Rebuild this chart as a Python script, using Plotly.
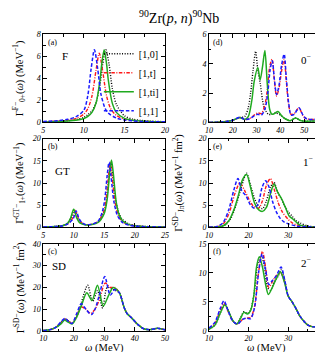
import plotly.graph_objects as go

# ---- panel (a): F, 0+ ----
a_x0 = [5, 7, 8, 9, 10, 10.5, 11, 11.5, 12, 12.3, 12.7, 13.1, 13.5, 14, 15, 16, 17, 18, 20]
a_y0 = [0.05, 0.1, 0.15, 0.25, 0.45, 0.7, 1.05, 1.8, 3.5, 5.2, 6.6, 5.3, 3.1, 1.65, 0.6, 0.3, 0.18, 0.12, 0.06]
a_xt = [5, 7, 8, 9, 10, 10.5, 11, 11.5, 11.9, 12.3, 12.8, 13.3, 14, 15, 16, 17, 18, 20]
a_yt = [0.06, 0.13, 0.2, 0.35, 0.75, 1.26, 2.4, 4.75, 6.3, 4.75, 2.4, 1.26, 0.63, 0.31, 0.18, 0.12, 0.08, 0.05]
a_xti = [5, 7, 8, 9, 10, 10.5, 11, 11.5, 12, 12.2, 12.5, 12.8, 13, 13.5, 14, 15, 16, 17, 18, 20]
a_yti = [0.04, 0.08, 0.12, 0.19, 0.36, 0.55, 0.91, 1.75, 3.9, 5.3, 6.6, 5.3, 3.9, 1.75, 0.91, 0.36, 0.19, 0.12, 0.08, 0.04]
a_x1 = [5, 7, 8, 9, 10, 10.5, 10.9, 11.3, 11.7, 12.1, 12.6, 13, 14, 15, 16, 17, 18, 20]
a_y1 = [0.08, 0.17, 0.28, 0.5, 1.1, 2.5, 4.9, 6.6, 4.9, 2.6, 1.3, 0.85, 0.4, 0.22, 0.14, 0.09, 0.07, 0.05]

# ---- panel (b): GT, 1+ ----
b_x0 = [5, 7, 8, 9, 9.6, 10.1, 10.6, 11, 12, 13, 14, 15, 15.4, 15.8, 16.1, 16.4, 16.9, 17.5, 18, 19, 20, 22, 25]
b_y0 = [0.1, 0.2, 0.36, 1.0, 2.2, 4.0, 2.2, 1.3, 0.6, 0.7, 1.3, 3.6, 6.2, 11.5, 14.8, 11.5, 6.0, 2.9, 1.8, 0.8, 0.45, 0.18, 0.09]
b_xt = [5, 7, 8, 9, 9.8, 10.3, 10.8, 11.3, 12, 13, 14, 14.9, 15.3, 15.7, 16.0, 16.3, 16.8, 17.4, 18, 19, 20, 22, 25]
b_yt = [0.1, 0.18, 0.3, 0.8, 2.0, 3.8, 2.0, 1.0, 0.6, 0.7, 1.3, 3.5, 6.2, 11.5, 14.5, 11.5, 5.6, 2.5, 1.3, 0.6, 0.35, 0.15, 0.08]
b_xti = [5, 7, 8, 9, 9.5, 10, 10.5, 11, 12, 13, 14, 15, 15.5, 15.9, 16.2, 16.5, 17, 17.5, 18, 19, 20, 22, 25]
b_yti = [0.08, 0.17, 0.32, 0.9, 2.1, 4.1, 2.1, 1.0, 0.55, 0.63, 1.1, 3.1, 6.4, 12.2, 15.2, 12.2, 5.5, 2.7, 1.5, 0.67, 0.37, 0.16, 0.08]
b_x1 = [5, 7, 8, 9, 9.9, 10.4, 10.9, 11.4, 12, 13, 14, 14.7, 15.1, 15.5, 15.8, 16.1, 16.6, 17.2, 18, 19, 20, 22, 25]
b_y1 = [0.1, 0.18, 0.3, 0.75, 1.9, 3.7, 1.9, 1.0, 0.6, 0.7, 1.4, 3.5, 6.3, 11.8, 14.7, 11.8, 5.8, 2.6, 1.1, 0.5, 0.3, 0.14, 0.07]

# ---- panel (c): SD total ----
c_x0 = [10, 12, 14, 16, 17.2, 18.5, 19.5, 21, 22.5, 24.6, 26.2, 27.8, 29.5, 31, 33, 35, 36.5, 37.5, 39, 41, 43, 45, 47.5, 50]
c_y0 = [0.2, 0.5, 1.5, 4.0, 5.5, 4.3, 3.5, 6.5, 13.0, 21.0, 13.5, 18.5, 10.5, 20.0, 19.0, 17.5, 11, 8.0, 6.0, 3.0, 1.0, 0.6, 1.2, 0.5]
c_xt = [10, 12, 14, 16, 17.2, 18.5, 19.5, 21, 22.5, 24, 25.5, 27, 28.5, 30.3, 32, 33.5, 35, 36.5, 37.5, 39, 41, 43, 45, 47.5, 50]
c_yt = [0.2, 0.5, 1.5, 4.0, 5.5, 4.3, 3.5, 7.0, 11.0, 10.0, 8.0, 10.0, 14.5, 22.0, 20.0, 20.0, 17.5, 11, 8.0, 6.0, 3.0, 1.0, 0.6, 1.2, 0.5]
c_xti = [10, 12, 14, 16, 17, 18, 19.5, 21, 22.5, 24.3, 26, 27.8, 29.7, 31.5, 33, 35, 36.5, 37.5, 39, 41, 43, 45, 47.5, 50]
c_yti = [0.2, 0.5, 1.5, 3.5, 5.0, 4.2, 3.2, 6.5, 11.5, 17.5, 14.0, 21.0, 11.5, 16.5, 20.0, 17.5, 11, 8.0, 6.0, 3.0, 1.0, 0.6, 1.2, 0.5]
c_x1 = [10, 12, 14, 16, 17.2, 18.5, 19.5, 21, 22.5, 24, 25.8, 27, 28.5, 30.2, 32, 33.5, 35, 36.5, 37.5, 39, 41, 43, 45, 47.5, 50]
c_y1 = [0.2, 0.5, 1.5, 4.5, 5.8, 4.0, 3.5, 8.0, 12.5, 10.0, 7.5, 10.0, 17.0, 25.0, 16.5, 19.0, 17.5, 11, 8.0, 6.0, 3.0, 1.0, 0.6, 1.2, 0.5]

# ---- panel (d): 0- ----
d_x0 = [10, 15, 18, 20, 23, 25, 26.5, 27.5, 28.5, 29.6, 30.5, 31.5, 33, 34, 35, 36.5, 38, 40, 42, 44, 46.5, 48.5, 51, 55, 60]
d_y0 = [0, 0.02, 0.08, 0.15, 0.33, 0.4, 1.0, 2.0, 3.5, 4.85, 3.6, 2.7, 1.1, 0.75, 0.55, 0.55, 0.65, 0.5, 0.25, 0.12, 0.3, 0.12, 0.08, 0.1, 0.05]
d_xt = [10, 15, 18, 20, 23, 25, 27, 29, 30.5, 32, 33.5, 34.5, 35.5, 36.5, 37.5, 38.4, 39.5, 40.5, 41.6, 42.5, 43.5, 44.5, 45.8, 47.8, 49.5, 51, 54, 57, 60]
d_yt = [0, 0.02, 0.08, 0.15, 0.33, 0.2, 0.25, 0.5, 0.65, 0.6, 1.2, 2.2, 3.8, 4.3, 2.8, 1.8, 2.4, 3.5, 4.3, 2.8, 1.2, 0.55, 0.6, 1.0, 0.45, 0.25, 0.2, 0.25, 0.1]
d_xti = [10, 15, 18, 20, 23, 25, 26.5, 28, 29, 30.5, 31.5, 32.5, 33.5, 34.5, 35.5, 36.5, 37.5, 39, 40.5, 42, 44, 46.5, 48.5, 51, 55, 60]
d_yti = [0, 0.02, 0.08, 0.15, 0.33, 0.2, 0.4, 1.5, 2.8, 3.75, 2.9, 3.8, 4.9, 2.6, 0.9, 0.55, 0.6, 0.75, 0.45, 0.25, 0.12, 0.3, 0.12, 0.08, 0.1, 0.05]
d_x1 = [10, 15, 18, 20, 23, 25, 27, 29, 30.5, 32, 33.5, 34.7, 35.7, 36.6, 37.5, 38.4, 39.5, 40.5, 41.6, 42.5, 43.5, 44.5, 45.8, 47.8, 49.5, 51, 54, 57, 60]
d_y1 = [0, 0.02, 0.08, 0.15, 0.35, 0.2, 0.25, 0.45, 0.55, 0.5, 0.9, 2.0, 3.6, 4.2, 2.9, 1.9, 2.6, 3.9, 4.65, 3.0, 1.3, 0.5, 0.55, 1.0, 0.5, 0.25, 0.2, 0.25, 0.1]

# ---- panel (e): 1- ----
e_x0 = [10, 12, 14, 15.5, 17, 18.3, 19.5, 20.5, 21.5, 22.5, 23.5, 24.5, 25.5, 26.4, 27.3, 28.2, 29, 30, 31, 32, 33, 35, 37, 40]
e_y0 = [0.03, 0.1, 0.5, 2.0, 5.5, 9.5, 12.2, 9.5, 6.5, 4.8, 4.2, 6.0, 9.0, 10.2, 8.0, 6.5, 5.0, 3.5, 2.5, 1.5, 1.0, 0.3, 0.1, 0.03]
e_xt = [10, 12, 13.5, 15, 16.5, 17.8, 19, 20, 21, 22.5, 23.5, 24.5, 25.5, 26.5, 27.5, 28.5, 30, 31, 32, 34, 37, 40]
e_yt = [0.05, 0.15, 0.7, 3.0, 7.5, 10.0, 8.3, 6.5, 5.0, 4.3, 6.0, 9.5, 11.0, 8.5, 5.5, 3.5, 1.8, 1.0, 0.6, 0.25, 0.05, 0.02]
e_xti = [10, 12, 13.5, 15, 16.5, 17.5, 18.5, 19.5, 20.5, 21.5, 22.5, 23.5, 24.5, 25.5, 26.4, 27.3, 28.3, 29.3, 30.3, 31.3, 32, 33, 35, 37, 40]
e_yti = [0.02, 0.05, 0.3, 1.5, 4.5, 7.5, 10.8, 11.9, 9.0, 5.5, 4.0, 3.6, 4.5, 7.5, 9.8, 8.0, 6.5, 4.5, 2.5, 1.8, 1.2, 0.5, 0.15, 0.05, 0.02]
e_x1 = [10, 12, 13.5, 15, 16.3, 17.3, 18.3, 19.3, 20.5, 21.5, 22.5, 23.4, 24.3, 25.2, 26, 27, 28, 29, 30, 32, 34, 37, 40]
e_y1 = [0.05, 0.2, 1.0, 4.0, 8.5, 11.0, 8.2, 7.2, 5.0, 4.3, 5.5, 9.0, 10.5, 9.0, 6.0, 3.5, 2.0, 1.2, 0.8, 0.3, 0.15, 0.05, 0.02]

# ---- panel (f): 2- ----
f_x0 = [10, 11.5, 12.8, 14, 15, 16, 17, 18, 18.8, 19.7, 20.5, 21.5, 22.3, 23.2, 24, 24.8, 25.5, 26.5, 27.5, 28.2, 29.2, 30, 31, 32, 33, 35, 36.5, 38, 40]
f_y0 = [0.3, 1.0, 3.0, 4.6, 3.3, 1.8, 1.2, 2.3, 3.3, 3.0, 3.6, 7.0, 11.5, 13.0, 11.0, 7.5, 7.0, 8.5, 9.5, 10.5, 8.5, 6.0, 5.0, 3.8, 2.5, 1.0, 0.7, 0.9, 0.5]
f_xt = [10, 11.5, 12.8, 13.8, 14.8, 16, 17.2, 18.5, 19.5, 20.5, 21.5, 22.5, 23.5, 24.4, 25.1, 26, 27, 28.1, 29.2, 30, 31, 32, 33, 35, 36.5, 38, 40]
f_yt = [0.4, 1.3, 3.5, 4.8, 3.4, 1.7, 1.2, 2.0, 2.2, 2.3, 4.2, 10.0, 13.7, 10.5, 7.5, 8.5, 9.5, 10.0, 8.2, 6.0, 5.0, 3.8, 2.5, 1.0, 0.7, 0.9, 0.5]
f_xti = [10, 11.5, 12.8, 14, 15, 16, 17, 18, 18.8, 19.7, 20.5, 21.3, 22.0, 22.7, 23.5, 24.3, 25, 26, 27, 28, 29, 30, 31, 32, 33, 35, 36.5, 38, 40]
f_yti = [0.3, 1.0, 3.0, 4.5, 3.3, 1.8, 1.2, 2.2, 3.2, 2.9, 3.5, 6.0, 11.0, 12.8, 11.0, 8.0, 6.3, 7.5, 9.0, 10.2, 8.5, 6.0, 5.0, 3.8, 2.5, 1.0, 0.7, 0.9, 0.5]
f_x1 = [10, 11.5, 12.8, 13.8, 14.8, 16, 17.2, 18.5, 19.5, 20.5, 21.5, 22.5, 23.4, 24.3, 25.1, 26, 27, 28.2, 29.2, 30, 31, 32, 33, 35, 36.5, 38, 40]
f_y1 = [0.5, 1.5, 3.8, 5.2, 3.5, 1.7, 1.2, 2.0, 2.2, 2.1, 4.0, 10.0, 13.3, 10.5, 8.0, 8.7, 9.5, 11.0, 8.5, 6.0, 5.0, 3.8, 2.5, 1.0, 0.7, 0.9, 0.5]

names = ["[1,0]", "[1,t]", "[1,ti]", "[1,1]"]

SERIF = "Liberation Serif"
W, H = 323, 352

styles = [
    dict(color="black", dash="1px,1.6px", width=1.4),
    dict(color="#ff1a1a", dash="3.5px,1.5px,1px,1.5px", width=1.4),
    dict(color="#1faa1f", dash="solid", width=1.5),
    dict(color="#1a1aff", dash="3.5px,2px", width=1.5),
]

panels = [
    ([(a_x0, a_y0), (a_xt, a_yt), (a_xti, a_yti), (a_x1, a_y1)], ""),
    ([(d_x0, d_y0), (d_xt, d_yt), (d_xti, d_yti), (d_x1, d_y1)], "2"),
    ([(b_x0, b_y0), (b_xt, b_yt), (b_xti, b_yti), (b_x1, b_y1)], "3"),
    ([(e_x0, e_y0), (e_xt, e_yt), (e_xti, e_yti), (e_x1, e_y1)], "4"),
    ([(c_x0, c_y0), (c_xt, c_yt), (c_xti, c_yti), (c_x1, c_y1)], "5"),
    ([(f_x0, f_y0), (f_xt, f_yt), (f_xti, f_yti), (f_x1, f_y1)], "6"),
]

fig = go.Figure()
for pi, (series, sfx) in enumerate(panels):
    for si, (xs, ys) in enumerate(series):
        fig.add_trace(go.Scatter(
            x=xs, y=ys, mode="lines", name=names[si],
            line=dict(shape="spline", smoothing=0.8, **styles[si]),
            showlegend=(pi == 0),
            xaxis="x" + sfx, yaxis="y" + sfx,
        ))

left = [32 / W, 157 / W]
right = [202 / W, 1.0]
rows = [[1 - 113.3 / H, 1 - 23 / H], [1 - 221 / H, 1 - 130 / H], [1 - 327.3 / H, 1 - 238 / H]]


def axis(domain, rng, dtick, minor, anchor):
    return dict(
        domain=domain, range=rng, dtick=dtick, tick0=0, anchor=anchor,
        ticks="inside", ticklen=4, tickwidth=0.8, tickcolor="black",
        mirror="allticks", showline=True, linecolor="black", linewidth=0.8,
        showgrid=False, zeroline=False,
        minor=dict(ticks="inside", ticklen=2.5, dtick=minor, tick0=0, tickcolor="black", tickwidth=0.8),
        tickfont=dict(family=SERIF, size=8, style="italic", color="black"),
    )


fig.update_layout(
    xaxis=axis(left, [5, 20], 5, 2.5, "y"),
    yaxis=axis(rows[0], [0, 8], 2, 1, "x"),
    xaxis2=axis(right, [10, 59.6], 10, 5, "y2"),
    yaxis2=axis(rows[0], [0, 6], 2, 1, "x2"),
    xaxis3=axis(left, [5, 25], 5, 2.5, "y3"),
    yaxis3=axis(rows[1], [0, 20], 5, 2.5, "x3"),
    xaxis4=axis(right, [10, 39.8], 10, 5, "y4"),
    yaxis4=axis(rows[1], [0, 20], 5, 2.5, "x4"),
    xaxis5=axis(left, [10, 50], 10, 5, "y5"),
    yaxis5=axis(rows[2], [0, 40], 10, 5, "x5"),
    xaxis6=axis(right, [10, 39.8], 10, 5, "y6"),
    yaxis6=axis(rows[2], [0, 15], 5, 2.5, "x6"),
)

ann = []
tags = [("(a)", "", "F", 0.18, 0.75), ("(d)", "2", "0<sup>−</sup>", 0.82, 0.72),
        ("(b)", "3", "GT", 0.16, 0.64), ("(e)", "4", "1<sup>−</sup>", 0.84, 0.75),
        ("(c)", "5", "SD", 0.13, 0.75), ("(f)", "6", "2<sup>−</sup>", 0.82, 0.79)]
for tag, sfx, lab, lx, ly in tags:
    ann.append(dict(text=tag, xref="x%s domain" % sfx, yref="y%s domain" % sfx,
                    x=0.02, y=0.985, xanchor="left", yanchor="top", showarrow=False,
                    font=dict(family=SERIF, size=8, color="black")))
    ann.append(dict(text=lab, xref="x%s domain" % sfx, yref="y%s domain" % sfx,
                    x=lx, y=ly, xanchor="center", yanchor="middle", showarrow=False,
                    font=dict(family=SERIF, size=11, color="black")))

ytitles = [
    ("Γ<sup>F−</sup><sub>0+</sub>(<i>ω</i>) (MeV<sup>−1</sup>)", 8, sum(rows[0]) / 2),
    ("Γ<sup>GT−</sup><sub>1+</sub>(<i>ω</i>) (MeV<sup>−1</sup>)", 8, sum(rows[1]) / 2),
    ("Γ<sup>SD−</sup>(<i>ω</i>) (MeV<sup>−1</sup> fm<sup>2</sup>)", 8, sum(rows[2]) / 2),
    ("Γ<sup>SD−</sup><sub>J<i>π</i></sub>(<i>ω</i>) (MeV<sup>−1</sup> fm<sup>2</sup>)", 171, sum(rows[1]) / 2),
]
for txt, px, py in ytitles:
    ann.append(dict(text=txt, xref="paper", yref="paper", x=px / W, y=py,
                    xanchor="center", yanchor="middle", textangle=-90, showarrow=False,
                    font=dict(family=SERIF, size=10.5, color="black")))

for cx in [sum(left) / 2, sum(right) / 2 - 0.005]:
    ann.append(dict(text="<i>ω</i> (MeV)", xref="paper", yref="paper", x=cx, y=1 - 345 / H,
                    xanchor="center", yanchor="middle", showarrow=False,
                    font=dict(family=SERIF, size=10.5, color="black")))

fig.update_layout(
    width=W, height=H,
    margin=dict(l=0, r=0, t=0, b=0),
    paper_bgcolor="white", plot_bgcolor="white",
    title=dict(text="<sup>90</sup>Zr(<i>p</i>, <i>n</i>)<sup>90</sup>Nb", x=0.53, y=1 - 10 / H,
               xanchor="center", yanchor="middle", font=dict(family=SERIF, size=14, color="black")),
    annotations=ann,
    showlegend=True,
    legend=dict(x=157 / W - 0.004, y=1 - 28 / H, xanchor="right", yanchor="top",
                bgcolor="rgba(0,0,0,0)", itemwidth=30, borderwidth=0,
                font=dict(family=SERIF, size=10, color="black")),
)

fig.write_html("out.html")
